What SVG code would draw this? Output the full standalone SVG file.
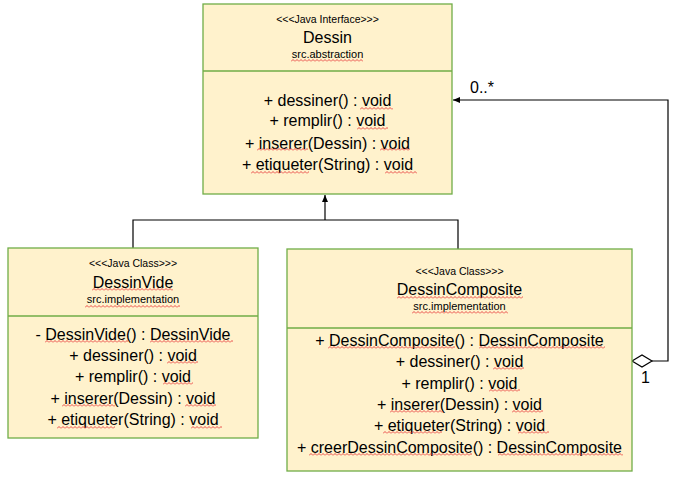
<svg xmlns="http://www.w3.org/2000/svg" width="691" height="488" viewBox="0 0 691 488">
<style>
.box{fill:#FFF2CC;stroke:#70AD47;stroke-width:1.3}
.div{stroke:#70AD47;stroke-width:1.3}
text{font-family:"Liberation Sans",Arial,sans-serif;fill:#000;text-anchor:middle}
.st{font-size:10.5px}
.nm{font-size:16px}
.pk{font-size:11px}
.m{font-size:16px}
.lbl{font-size:16px;text-anchor:start}
.ln{fill:none;stroke:#000;stroke-width:1.2}
.sq{overflow:hidden}
</style>
<defs>
<marker id="arr" markerWidth="8" markerHeight="8" refX="7" refY="4" orient="auto" markerUnits="userSpaceOnUse">
<path d="M0,1 L7,4 L0,7 Z" fill="#000"/>
</marker>
<pattern id="zz" patternUnits="userSpaceOnUse" width="4" height="3">
<path d="M0,2.5 L2,0.5 L4,2.5" fill="none" stroke="#E83A3A" stroke-width="0.9"/>
</pattern>
<rect id="sqr" width="400" height="3" fill="url(#zz)"/>
</defs>
<rect width="691" height="488" fill="#fff"/>
<g id="connectors">
<path class="ln" d="M133,248 V220 H458 V249"/>
<path class="ln" d="M325,220 V195" marker-end="url(#arr)"/>
<path class="ln" d="M652,361 H668 V100 H453" marker-end="url(#arr)"/>
<path d="M632,361 L642,355 L652,361 L642,367 Z" fill="#fff" stroke="#000" stroke-width="1.2"/>
<text class="lbl" x="470" y="93">0..*</text>
<text class="lbl" x="641" y="383">1</text>
</g>
<g id="Dessin">
<rect class="box" x="203" y="4" width="249" height="190"/>
<line class="div" x1="203" y1="71" x2="452" y2="71"/>
<text class="st" x="327.5" y="22.5">&lt;&lt;&lt;Java Interface&gt;&gt;&gt;</text>
<text class="nm" x="327.5" y="43">Dessin</text>
<text class="pk" x="327.5" y="58">src.abstraction</text>
<text class="m" x="327.5" y="105.5">+ dessiner() : void</text>
<text class="m" x="327.5" y="126">+ remplir() : void</text>
<text class="m" x="327.5" y="148.5">+ inserer(Dessin) : void</text>
<text class="m" x="327.5" y="169.5">+ etiqueter(String) : void</text>
<g id="Dessin-spell">
<svg class="sq" x="291" y="59" width="72" height="3"><use href="#sqr"/></svg>
<svg class="sq" x="360" y="107" width="33" height="3"><use href="#sqr"/></svg>
<svg class="sq" x="357" y="127" width="31" height="3"><use href="#sqr"/></svg>
<svg class="sq" x="257" y="148" width="51" height="3"><use href="#sqr"/></svg>
<svg class="sq" x="380" y="148" width="30" height="3"><use href="#sqr"/></svg>
<svg class="sq" x="251" y="171" width="58" height="3"><use href="#sqr"/></svg>
<svg class="sq" x="385" y="171" width="32" height="3"><use href="#sqr"/></svg>
</g>
</g>
<g id="DessinVide">
<rect class="box" x="8" y="248" width="250" height="190"/>
<line class="div" x1="8" y1="316" x2="258" y2="316"/>
<text class="st" x="133" y="267">&lt;&lt;&lt;Java Class&gt;&gt;&gt;</text>
<text class="nm" x="133" y="287.5">DessinVide</text>
<text class="pk" x="133" y="303">src.implementation</text>
<text class="m" x="133" y="339.5">- DessinVide() : DessinVide</text>
<text class="m" x="133" y="360.5">+ dessiner() : void</text>
<text class="m" x="133" y="382">+ remplir() : void</text>
<text class="m" x="133" y="403.5">+ inserer(Dessin) : void</text>
<text class="m" x="133" y="425">+ etiqueter(String) : void</text>
<g id="DessinVide-spell">
<svg class="sq" x="92" y="288" width="81" height="3"><use href="#sqr"/></svg>
<svg class="sq" x="85" y="305" width="95" height="3"><use href="#sqr"/></svg>
<svg class="sq" x="45" y="340" width="83" height="3"><use href="#sqr"/></svg>
<svg class="sq" x="150" y="340" width="83" height="3"><use href="#sqr"/></svg>
<svg class="sq" x="167" y="361" width="31" height="3"><use href="#sqr"/></svg>
<svg class="sq" x="163" y="382" width="30" height="3"><use href="#sqr"/></svg>
<svg class="sq" x="62" y="404" width="53" height="3"><use href="#sqr"/></svg>
<svg class="sq" x="185" y="404" width="31" height="3"><use href="#sqr"/></svg>
<svg class="sq" x="57" y="426" width="58" height="3"><use href="#sqr"/></svg>
<svg class="sq" x="191" y="426" width="31" height="3"><use href="#sqr"/></svg>
</g>
</g>
<g id="DessinComposite">
<rect class="box" x="287" y="249" width="345" height="222"/>
<line class="div" x1="287" y1="328" x2="632" y2="328"/>
<text class="st" x="459.5" y="274.5">&lt;&lt;&lt;Java Class&gt;&gt;&gt;</text>
<text class="nm" x="459.5" y="294.5">DessinComposite</text>
<text class="pk" x="459.5" y="310">src.implementation</text>
<text class="m" x="459.5" y="345.5">+ DessinComposite() : DessinComposite</text>
<text class="m" x="459.5" y="366.5">+ dessiner() : void</text>
<text class="m" x="459.5" y="388.5">+ remplir() : void</text>
<text class="m" x="459.5" y="409.5">+ inserer(Dessin) : void</text>
<text class="m" x="459.5" y="430.5">+ etiqueter(String) : void</text>
<text class="m" x="459.5" y="452.5">+ creerDessinComposite() : DessinComposite</text>
<g id="DessinComposite-spell">
<svg class="sq" x="397" y="296" width="126" height="3"><use href="#sqr"/></svg>
<svg class="sq" x="412" y="311" width="96" height="3"><use href="#sqr"/></svg>
<svg class="sq" x="328" y="346" width="127" height="3"><use href="#sqr"/></svg>
<svg class="sq" x="479" y="346" width="126" height="3"><use href="#sqr"/></svg>
<svg class="sq" x="493" y="367" width="31" height="3"><use href="#sqr"/></svg>
<svg class="sq" x="489" y="389" width="31" height="3"><use href="#sqr"/></svg>
<svg class="sq" x="390" y="410" width="53" height="3"><use href="#sqr"/></svg>
<svg class="sq" x="512" y="410" width="31" height="3"><use href="#sqr"/></svg>
<svg class="sq" x="383" y="431" width="59" height="3"><use href="#sqr"/></svg>
<svg class="sq" x="518" y="431" width="31" height="3"><use href="#sqr"/></svg>
<svg class="sq" x="309" y="453" width="163" height="3"><use href="#sqr"/></svg>
<svg class="sq" x="498" y="453" width="125" height="3"><use href="#sqr"/></svg>
</g>
</g>
</svg>
